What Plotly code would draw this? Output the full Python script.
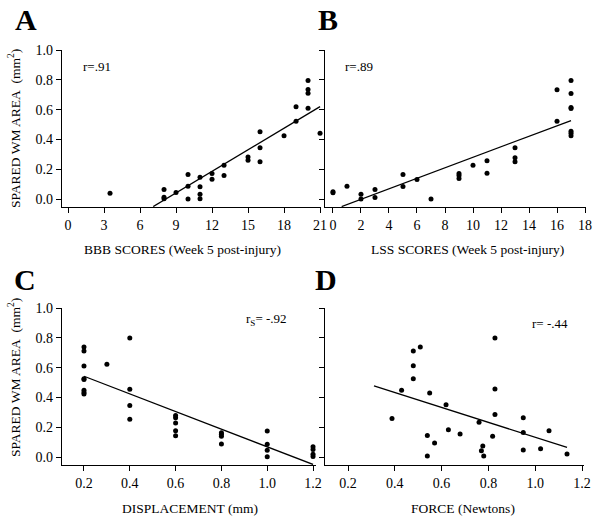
import plotly.graph_objects as go

# ---------------- data ----------------
# Panel A: BBB scores vs spared WM area
bbb_x = [3.5, 8, 8, 8, 9, 10, 10, 10, 11, 11, 11, 11, 12, 12, 13, 13, 15, 15,
         16, 16, 16, 18, 19, 19, 20, 20, 20, 20, 21]
bbb_y = [0.04, 0.065, 0.012, 0.003, 0.045, 0.165, 0.087, 0.0, 0.147, 0.082, 0.033,
         0.003, 0.171, 0.133, 0.227, 0.158, 0.282, 0.26, 0.451, 0.344, 0.251, 0.425,
         0.62, 0.522, 0.795, 0.735, 0.71, 0.61, 0.442]
fit_a_x = [7.1, 21]
fit_a_y = [-0.05, 0.62]

# Panel B: LSS scores
lss_x = [0, 0, 1, 2, 2, 3, 3, 5, 5, 6, 7, 9, 9, 9, 10, 11, 11, 13, 13, 13,
         16, 16, 17, 17, 17, 17, 17, 17, 17]
lss_y = [0.042, 0.05, 0.087, 0.033, 0.0, 0.065, 0.011, 0.165, 0.085, 0.131, 0.0,
         0.171, 0.158, 0.138, 0.227, 0.258, 0.173, 0.344, 0.278, 0.251,
         0.733, 0.522, 0.795, 0.709, 0.615, 0.607, 0.455, 0.442, 0.425]
fit_b_x = [0.62, 17]
fit_b_y = [-0.05, 0.527]

# Panel C: displacement
disp_x = [0.2, 0.2, 0.2, 0.2, 0.2, 0.2, 0.2, 0.2, 0.3, 0.4, 0.4, 0.4, 0.4,
          0.6, 0.6, 0.6, 0.6, 0.6, 0.8, 0.8, 0.8, 0.8, 1.0, 1.0, 1.0, 1.0,
          1.2, 1.2, 1.2, 1.2]
disp_y = [0.738, 0.711, 0.611, 0.526, 0.52, 0.448, 0.433, 0.423, 0.622, 0.798,
          0.455, 0.346, 0.254, 0.279, 0.263, 0.229, 0.176, 0.142, 0.163, 0.152,
          0.14, 0.087, 0.174, 0.086, 0.045, 0.002, 0.069, 0.051, 0.018, 0.003]
fit_c_x = [0.2, 1.2]
fit_c_y = [0.542, -0.05]

# Panel D: force
force_x = [0.388, 0.429, 0.479, 0.479, 0.479, 0.509, 0.539, 0.539, 0.549, 0.57,
           0.619, 0.629, 0.679, 0.76, 0.77, 0.776, 0.78, 0.818, 0.828, 0.828,
           0.828, 0.949, 0.949, 0.949, 1.023, 1.059, 1.136]
force_y = [0.259, 0.448, 0.711, 0.613, 0.526, 0.738, 0.145, 0.007, 0.43, 0.094,
           0.35, 0.183, 0.154, 0.234, 0.042, 0.074, 0.007, 0.14, 0.798, 0.457,
           0.285, 0.263, 0.165, 0.047, 0.056, 0.176, 0.02]
fit_d_x = [0.311, 1.136]
fit_d_y = [0.477, 0.065]

y_ticks = [0, 0.2, 0.4, 0.6, 0.8, 1.0]
y_tick_text = ["0.0", "0.2", "0.4", "0.6", "0.8", "1.0"]
bbb_ticks = [0, 3, 6, 9, 12, 15, 18, 21]
lss_ticks = [0, 2, 4, 6, 8, 10, 12, 14, 16, 18]
mm_ticks = [0.2, 0.4, 0.6, 0.8, 1.0, 1.2]
mm_tick_text = ["0.2", "0.4", "0.6", "0.8", "1.0", "1.2"]

x_titles = ["BBB SCORES (Week 5 post-injury)", "LSS SCORES (Week 5 post-injury)",
            "DISPLACEMENT (mm)", "FORCE (Newtons)"]
y_title = "SPARED WM AREA\u00a0 (mm<sup>2</sup>)"
panel_letters = ["A", "B", "C", "D"]
r_labels = ["r=.91", "r=.89", "r<sub>S</sub>= -.92", "r= -.44"]

# ---------------- figure ----------------
W, H = 600, 528
FONT = "Liberation Serif, Times New Roman, serif"

def px(x):
    return x / W

def py(y):
    return 1 - y / H

fig = go.Figure()

panels = [
    (bbb_x, bbb_y, fit_a_x, fit_a_y, "x", "y"),
    (lss_x, lss_y, fit_b_x, fit_b_y, "x2", "y2"),
    (disp_x, disp_y, fit_c_x, fit_c_y, "x3", "y3"),
    (force_x, force_y, fit_d_x, fit_d_y, "x4", "y4"),
]
for xs, ys, fx, fy, xa, ya in panels:
    fig.add_trace(go.Scatter(x=fx, y=fy, mode="lines", xaxis=xa, yaxis=ya,
                             line=dict(color="black", width=1.3),
                             showlegend=False, hoverinfo="skip"))
    fig.add_trace(go.Scatter(x=xs, y=ys, mode="markers", xaxis=xa, yaxis=ya,
                             marker=dict(color="black", size=5),
                             cliponaxis=False, showlegend=False))

axis_common = dict(showline=True, linecolor="black", linewidth=1.4,
                   ticks="outside", ticklen=5, tickwidth=1.3, tickcolor="black",
                   showgrid=False, zeroline=False, automargin=False,
                   tickfont=dict(family=FONT, size=14, color="black"))

top_dom = [py(207), py(50)]
bot_dom = [py(465), py(308)]

fig.update_layout(
    template="none",
    width=W, height=H, margin=dict(l=0, r=0, t=0, b=0, pad=0),
    paper_bgcolor="white", plot_bgcolor="white",
    font=dict(family=FONT, size=13, color="black"),
    xaxis=dict(domain=[px(62), px(321)], range=[-0.5, 21.08], tickvals=bbb_ticks,
               anchor="y", **axis_common),
    yaxis=dict(domain=top_dom, range=[-0.053, 1.0], tickvals=y_ticks,
               ticktext=y_tick_text, anchor="x", **axis_common),
    xaxis2=dict(domain=[px(325), px(586)], range=[-0.57, 18.07], tickvals=lss_ticks,
                anchor="y2", **axis_common),
    yaxis2=dict(domain=top_dom, range=[-0.053, 1.0], tickvals=y_ticks,
                showticklabels=False, anchor="x2", **axis_common),
    xaxis3=dict(domain=[px(62), px(316)], range=[0.104, 1.213], tickvals=mm_ticks,
                ticktext=mm_tick_text, anchor="y3", **axis_common),
    yaxis3=dict(domain=bot_dom, range=[-0.0535, 1.0], tickvals=y_ticks,
                ticktext=y_tick_text, anchor="x3", **axis_common),
    xaxis4=dict(domain=[px(325), px(584)], range=[0.1017, 1.2085], tickvals=mm_ticks,
                ticktext=mm_tick_text, anchor="y4", **axis_common),
    yaxis4=dict(domain=bot_dom, range=[-0.0535, 1.0], tickvals=y_ticks,
                showticklabels=False, anchor="x4", **axis_common),
)

ann = []
# x-axis titles
for text, (cx, cy) in zip(x_titles, [(182, 249), (467, 249), (190, 508), (463, 508)]):
    ann.append(dict(text=text, x=px(cx), y=py(cy), xref="paper", yref="paper",
                    xanchor="center", yanchor="middle", showarrow=False,
                    font=dict(family=FONT, size=13.5, color="black")))
# y-axis titles
for cy in [129, 378]:
    ann.append(dict(text=y_title, x=px(14), y=py(cy), xref="paper", yref="paper",
                    xanchor="center", yanchor="middle", textangle=-90, showarrow=False,
                    font=dict(family=FONT, size=13.5, color="black")))
# panel letters
for letter, (lx, ly) in zip(panel_letters, [(13, 19), (316, 19), (12, 279), (313, 279)]):
    ann.append(dict(text="<b>%s</b>" % letter, x=px(lx), y=py(ly), xref="paper",
                    yref="paper", xanchor="left", yanchor="middle", showarrow=False,
                    font=dict(family=FONT, size=30, color="black")))
# correlation labels
r_pos = [(81, 66, "left"), (343, 66, "left"), (289, 319, "right"), (570, 323, "right")]
for text, (rx, ry, anc) in zip(r_labels, r_pos):
    ann.append(dict(text=text, x=px(rx), y=py(ry), xref="paper", yref="paper",
                    xanchor=anc, yanchor="middle", showarrow=False,
                    font=dict(family=FONT, size=13, color="black")))

fig.update_layout(annotations=ann)
fig.write_html("out.html", config={"displayModeBar": False},
               post_script="document.body.style.margin='0';document.body.style.overflow='hidden';")
